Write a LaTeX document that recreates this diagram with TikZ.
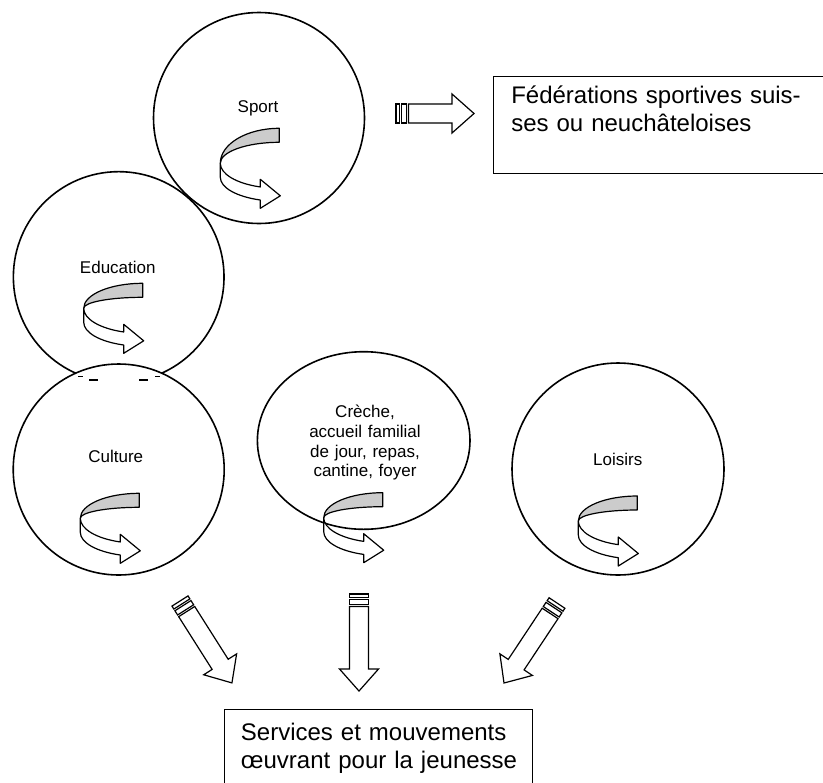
\documentclass[tikz,border=0pt]{standalone}
\usepackage{fontspec}
\setmainfont{Liberation Sans}
\usetikzlibrary{calc,shapes.geometric}
\tikzset{
  lbl/.style={font=\fontsize{12.75}{14.8}\selectfont, inner sep=0},
  boxtext/.style={font=\fontsize{18}{21}\selectfont, inner sep=0, align=left, text width=300pt, anchor=base west},
  bubble/.style={circle, draw, line width=1.2pt, inner sep=0},
  framebox/.style={draw, line width=1.1pt, inner sep=0, anchor=north west},
  greyband/.style={fill=gray!40, draw, line width=0.9pt, line join=round},
  whiteband/.style={fill=white, draw, line width=0.9pt, line join=round},
  blockarrow/.style={fill=white, draw, line width=0.9pt, line join=miter},
  pics/uturn/.style={code={
    \path[greyband] (0,0) arc[start angle=-90, end angle=-180, x radius=59, y radius=#1]
      arc[start angle=180, end angle=270, x radius=59, y radius={#1-14}] -- cycle;
    \path[whiteband] (-59,#1) arc[start angle=180, end angle=108.8, x radius=59, y radius=25]
      -- (-19,{#1+16}) -- (1,{#1+32.5}) -- (-19,{#1+45}) -- (-19,{#1+36.7})
      arc[start angle=108.8, end angle=180, x radius=59, y radius=24] -- cycle;
  }}
}
\newcommand\stripedarrow[2]{%
  \path let \p1=($(#2)-(#1)$) in \pgfextra{%
    \pgfmathsetmacro\SAangL{atan2(\y1,\x1)}\pgfmathsetmacro\SAlenL{veclen(\x1,\y1)/0.75}%
    \xdef\SAang{\SAangL}\xdef\SAlen{\SAlenL}};
  \begin{scope}[shift={(#1)}, rotate=\SAang, x=0.75pt, y=0.75pt]
    \path[blockarrow] (0,-9.5) rectangle (3.5,9.5);
    \path[blockarrow] (5.5,-9.5) rectangle (10.5,9.5);
    \path[blockarrow] (12.5,-9.5) -- ({\SAlen-22},-9.5) -- ({\SAlen-22},-19.5) -- (\SAlen,0)
      -- ({\SAlen-22},19.5) -- ({\SAlen-22},9.5) -- (12.5,9.5) -- cycle;
  \end{scope}}
\begin{document}
\begin{tikzpicture}[x=0.75pt, y=-0.75pt]
  \clip (0,0) rectangle (823,782);
  \fill[white] (0,0) rectangle (823,782);
  % circles
  \node[bubble, minimum size=158.25pt] (sport) at (259,118) {};
  \node[bubble, minimum size=158pt] (educ) at (118.7,277) {};
  \node[bubble, fill=white, minimum size=158.25pt] (cult) at (118.7,469.5) {};
  \node[ellipse, draw, line width=1.2pt, inner sep=0, minimum width=159.45pt, minimum height=133.2pt] (creche) at (363.7,440.5) {};
  \node[bubble, minimum size=159pt] (loisirs) at (618,469) {};
  % small marks
  \draw[line width=1pt] (78,376.5) -- (83,376.5) (89,380) -- (98,380) (139,380) -- (148,380) (155,376.5) -- (160,376.5);
  % labels
  \node[lbl, anchor=base] (sportlbl) at (258,112) {Sport};
  \node[lbl, anchor=base] (educlbl) at (117.8,273.3) {Education};
  \node[lbl, anchor=base] (cultlbl) at (115.8,462.3) {Culture};
  \node[lbl, anchor=base] (loislbl) at (617.7,465.3) {Loisirs};
  \node[lbl, align=center, text width=120pt, anchor=base] (crechelbl) at (365,417.7) {Crèche,\\accueil familial\\de jour, repas,\\cantine, foyer};
  % curved arrows
  \pic at (279.3,128.3) {uturn=35};
  \pic at (142.7,283.3) {uturn=25};
  \pic at (139.3,493.3) {uturn=25};
  \pic at (382.7,492.7) {uturn=25};
  \pic at (637.3,496) {uturn=25};
  % boxes
  \node[framebox, minimum width=252.75pt, minimum height=72.4pt] (fed) at (493,76) {};
  \node[boxtext] (fedtext) at (511,103) {Fédérations sportives suis-\\ses ou neuchâteloises};
  \node[framebox, minimum width=231pt, minimum height=65pt] (serv) at (224,709) {};
  \node[boxtext] (servtext) at (240.7,740.7) {Services et mouvements\\œuvrant pour la jeunesse};
  % block arrows
  \coordinate (h1) at (396,113.5); \coordinate (h2) at (474,113.5);
  \coordinate (l1) at (180,601); \coordinate (l2) at (232,683);
  \coordinate (m1) at (359,594); \coordinate (m2) at (359,691);
  \coordinate (r1) at (557,603); \coordinate (r2) at (504,683);
  \stripedarrow{h1}{h2}
  \stripedarrow{l1}{l2}
  \stripedarrow{m1}{m2}
  \stripedarrow{r1}{r2}
\end{tikzpicture}
\end{document}
